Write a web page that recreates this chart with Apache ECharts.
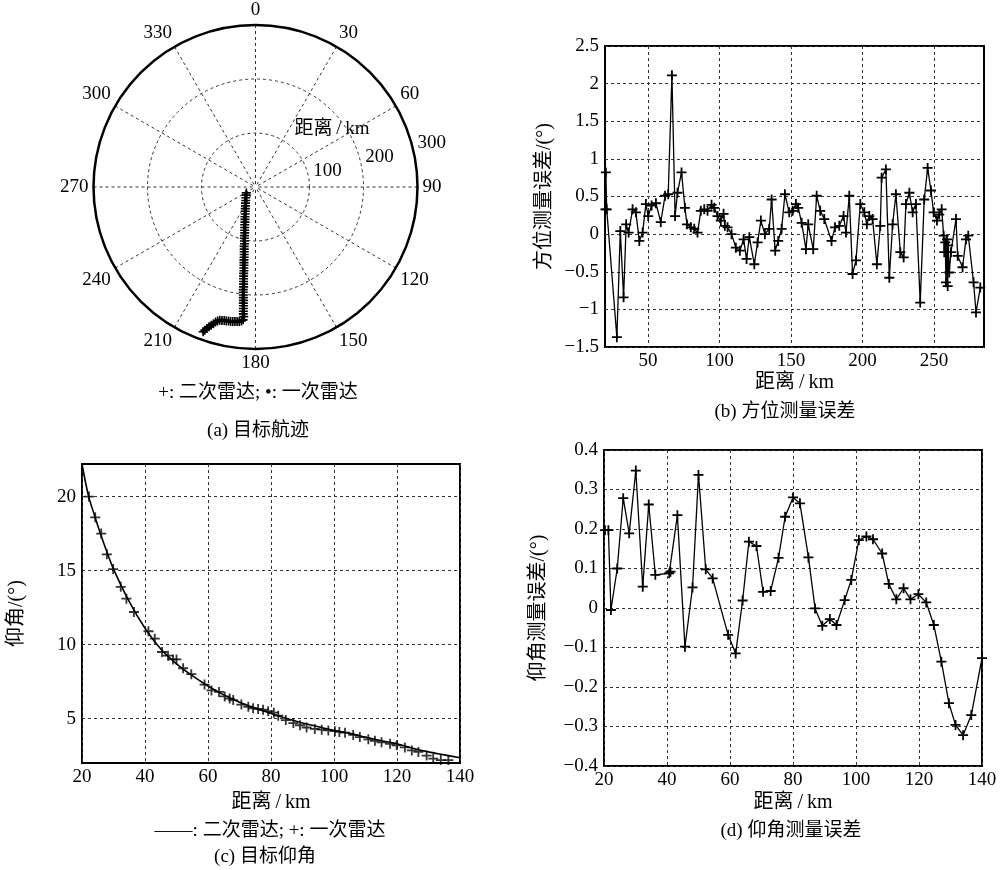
<!DOCTYPE html>
<html>
<head>
<meta charset="utf-8">
<title>目标航迹与测量误差</title>
<script src="https://cdn.jsdelivr.net/npm/echarts@6/dist/echarts.min.js"></script>
<style>
  html, body { margin: 0; padding: 0; background: #fff; }
  #main { width: 1001px; height: 870px; }
</style>
</head>
<body>
<div id="main"></div>
<script>
// (a) 目标航迹: 距离 km / 方位 deg
const trackRange = [20.2, 23.0, 26.9, 30.8, 35.2, 39.6, 44.3, 48.8, 53.5, 58.4,
  63.1, 67.9, 72.8, 77.6, 82.5, 87.3, 92.3, 97.2, 102.1, 107.0,
  112.0, 116.9, 121.8, 126.8, 131.7, 136.7, 141.6, 146.6, 151.5, 156.5,
  161.5, 166.5, 171.4, 176.4, 181.3, 186.3, 191.3, 196.3, 201.3, 206.2,
  211.2, 216.2, 221.1, 226.1, 231.1, 236.1, 241.0, 247.1,
  249.4, 250.8, 251.3, 251.9, 252.5, 253.2, 253.0, 253.8, 253.7, 254.7,
  255.7, 257.7, 260.7, 264.8, 268.8, 272.9, 277.0, 281.2, 285.0]
const trackAzimuth = [237.1, 229.4, 222.0, 215.8, 211.7, 207.9, 205.4, 202.9, 200.8, 199.5,
  198.0, 196.7, 195.9, 194.9, 194.0, 193.2, 192.8, 192.2, 191.6, 191.0,
  190.8, 190.3, 189.9, 189.5, 189.2, 189.0, 188.7, 188.4, 188.2, 187.9,
  187.8, 187.6, 187.4, 187.2, 187.0, 186.8, 186.8, 186.6, 186.4, 186.3,
  186.1, 186.0, 185.8, 185.7, 185.6, 185.5, 185.2, 185.3,
  186.0, 186.9, 187.8, 188.7, 189.6, 190.5, 191.4, 192.3, 193.2, 194.1,
  195.0, 195.8, 196.5, 197.1, 197.8, 198.4, 199.0, 199.5, 199.9]
const radiusTicks = [100, 200, 300]

// (b) 方位测量误差
const azDist = [20.3, 20.6, 21.2, 28.3, 30.7, 33.0, 34.8, 36.5, 39.3, 41.6,
  44.0, 46.3, 48.6, 50.2, 52.6, 55.6, 59.0, 62.0, 64.2, 66.8,
  69.0, 70.7, 73.5, 75.9, 77.3, 80.0, 82.4, 84.7, 87.0, 89.4,
  91.7, 94.5, 96.4, 98.7, 101.0, 102.9, 103.8, 105.7, 108.5, 111.5,
  114.3, 116.9, 119.0, 120.9, 124.4, 126.7, 129.0, 131.8, 134.8, 136.5,
  139.0, 141.1, 143.5, 145.8, 148.8, 151.2, 153.5, 155.1, 157.5, 160.5,
  162.1, 165.6, 168.0, 170.5, 173.3, 178.4, 180.8, 183.8, 186.8, 188.5,
  190.8, 193.1, 195.5, 198.5, 201.3, 203.1, 204.8, 207.1, 210.1, 212.5,
  213.4, 216.4, 218.8, 221.1, 223.4, 226.5, 228.8, 230.4, 232.8, 235.1,
  237.4, 240.4, 243.2, 245.6, 247.9, 249.8, 252.1, 253.7, 255.4, 256.8,
  257.2, 257.9, 258.4, 259.1, 259.6, 260.0, 260.7, 261.9, 265.4, 266.6,
  270.0, 272.4, 274.0, 277.7, 279.4, 282.4, 285.2]
const azError = [0.33, 0.82, 0.33, -1.37, 0.04, -0.84, 0.13, 0.02, 0.33, 0.29,
  -0.09, 0.02, 0.40, 0.24, 0.38, 0.41, 0.16, 0.51, 0.53, 2.11,
  0.24, 0.55, 0.82, 0.35, 0.13, 0.09, 0.07, 0.02, 0.31, 0.33,
  0.31, 0.39, 0.35, 0.24, 0.18, 0.27, 0.11, 0.09, 0.00, -0.18,
  -0.22, -0.07, -0.33, -0.04, -0.40, -0.11, 0.18, 0.00, 0.07, 0.46,
  -0.22, -0.09, 0.07, 0.53, 0.29, 0.31, 0.40, 0.35, 0.15, -0.20,
  0.13, -0.20, 0.51, 0.31, 0.20, -0.09, 0.09, 0.11, 0.24, 0.02,
  0.51, -0.53, -0.35, 0.40, 0.29, 0.13, 0.24, 0.20, -0.40, 0.11,
  0.75, 0.86, -0.58, 0.13, 0.53, -0.24, -0.31, 0.40, 0.55, 0.29,
  0.40, -0.91, 0.46, 0.88, 0.58, 0.29, 0.18, 0.26, 0.33, -0.02,
  -0.24, -0.11, -0.64, -0.07, -0.69, -0.15, -0.51, -0.24, 0.20, -0.29,
  -0.44, -0.07, -0.02, -0.64, -1.04, -0.71, -0.71]
const azDistTicks = [50, 100, 150, 200, 250]

// (c) 目标仰角
const secDist = [20, 22, 24, 26, 28, 30, 35, 40, 45, 50, 55, 60, 65, 70,
  75, 80, 85, 90, 95, 100, 105, 110, 115, 120, 125, 130, 135, 140]
const secElev = [22.2, 20.1, 18.7, 17.4, 16.2, 15.1, 12.9, 11.1, 9.7, 8.7, 7.9, 7.2, 6.6, 6.1,
  5.7, 5.35, 5.0, 4.7, 4.45, 4.2, 4.0, 3.75, 3.5, 3.3, 3.0, 2.75, 2.55, 2.35]
const priDist = [22.2, 24.2, 26.1, 27.9, 29.9, 32.3, 34.1, 36.5, 41.1, 43.1,
  45.4, 47.3, 48.9, 50.0, 52.1, 54.7, 58.9, 61.1, 63.5, 65.3,
  66.9, 68.0, 70.6, 72.8, 74.3, 75.9, 77.5, 79.1, 80.9, 82.3,
  84.7, 87.1, 89.2, 91.3, 93.9, 96.1, 98.2, 100.3, 101.7, 103.5,
  106.1, 108.2, 110.9, 113.0, 115.1, 117.8, 119.9, 122.5, 124.7, 126.8,
  129.4, 131.5, 133.9, 136.3]
const priElev = [20.0, 18.6, 17.5, 16.1, 15.1, 13.9, 13.1, 12.2, 10.9, 10.4,
  9.5, 9.25, 9.0, 9.0, 8.4, 8.0, 7.3, 6.9, 6.8, 6.5,
  6.35, 6.25, 5.95, 5.8, 5.7, 5.65, 5.6, 5.5, 5.4, 5.2,
  4.9, 4.7, 4.55, 4.4, 4.3, 4.25, 4.2, 4.15, 4.1, 4.05,
  3.9, 3.75, 3.6, 3.5, 3.4, 3.3, 3.2, 3.05, 2.85, 2.75,
  2.5, 2.3, 2.2, 2.2]
const elevTicks = [5, 10, 15, 20]

// (d) 仰角测量误差
const elDist = [20.3, 21.4, 22.2, 24.2, 26.1, 28.0, 30.1, 32.3, 34.2, 36.3,
  40.7, 41.1, 43.3, 45.7, 48.1, 50.0, 52.3, 54.5, 59.4, 61.8,
  64.0, 66.0, 68.4, 70.5, 72.9, 75.4, 77.5, 80.0, 82.2, 84.9,
  87.0, 89.3, 91.7, 93.8, 96.4, 98.5, 100.9, 103.3, 105.4, 108.3,
  110.4, 112.8, 115.1, 117.3, 119.8, 122.3, 124.7, 127.1, 129.5, 131.6,
  134.0, 136.6, 140.0]
const elError = [0.197, 0.197, -0.005, 0.10, 0.278, 0.189, 0.348, 0.054, 0.262, 0.084,
  0.088, 0.092, 0.235, -0.098, 0.052, 0.337, 0.098, 0.075, -0.068, -0.115,
  0.019, 0.168, 0.157, 0.041, 0.043, 0.127, 0.231, 0.28, 0.265, 0.128,
  -0.001, -0.045, -0.028, -0.043, 0.02, 0.071, 0.172, 0.181, 0.174, 0.138,
  0.061, 0.022, 0.05, 0.022, 0.035, 0.014, -0.043, -0.136, -0.241, -0.296,
  -0.322, -0.271, -0.127]

const FONT = "'Liberation Serif', 'Noto Sans CJK SC', serif"
const PLUS = 'path://M4.1 0H5.9V4.1H10V5.9H5.9V10H4.1V5.9H0V4.1H4.1Z'
const tickText = { color: '#000', fontFamily: FONT, fontSize: 19 }
const nameText = { color: '#000', fontFamily: FONT, fontSize: 20 }
const dashed = { show: true, lineStyle: { color: '#333', type: [3, 3], width: 1 } }
const minus = v => (v < 0 ? '\u2212' + String(+Math.abs(v).toFixed(2)) : String(+(+v).toFixed(2)))
const pairs = (xs, ys) => xs.map((x, i) => [x, ys[i]])
const KM = '距离\u2009/\u2009km'

const xAxisBase = (gridIndex, min, max, nameGap) => ({
    type: 'value', gridIndex, min, max,
    name: KM, nameLocation: 'middle', nameGap, nameTextStyle: nameText,
    axisLine: { show: false }, axisTick: { show: false },
    axisLabel: { ...tickText, margin: 5 },
    splitLine: dashed
})
const yAxisBase = (gridIndex, min, max, name, nameGap) => ({
    type: 'value', gridIndex, min, max,
    name, nameLocation: 'middle', nameRotate: 90, nameGap, nameTextStyle: nameText,
    axisLine: { show: false }, axisTick: { show: false },
    axisLabel: { ...tickText, margin: 6, formatter: minus },
    splitLine: dashed
})

const chart = echarts.init(document.getElementById('main'))

const xB = xAxisBase(0, 20, 285, 26)
xB.axisLabel.customValues = azDistTicks
xB.axisTick.customValues = azDistTicks
const yB = yAxisBase(0, -1.5, 2.5, '方位测量误差/(°)', 50)
yB.interval = 0.5

const xC = xAxisBase(1, 20, 140, 30)
xC.interval = 20
const yC = yAxisBase(1, 2, 22.2, '仰角/(°)', 55)
yC.axisLabel.customValues = elevTicks
yC.axisTick.customValues = elevTicks

const xD = xAxisBase(2, 20, 140, 27)
xD.interval = 20
const yD = yAxisBase(2, -0.4, 0.4, '仰角测量误差/(°)', 55)
yD.interval = 0.1

const lineStyle = { color: '#000', width: 1.3 }
const caption = (x, y, text) => ({
    type: 'text', x, y,
    style: { text, font: '19px ' + FONT, fill: '#000', align: 'center', verticalAlign: 'middle', textAlign: 'center', textVerticalAlign: 'middle' }
})

chart.setOption({
    animation: false,
    backgroundColor: '#fff',
    textStyle: { fontFamily: FONT },
    polar: [
        { center: [255.5, 187], radius: 162 },
        { center: [255.5, 187], radius: 162 }
    ],
    angleAxis: [
        {
            polarIndex: 0, type: 'value', min: 0, max: 360, interval: 30,
            startAngle: 90, clockwise: true,
            axisLine: { lineStyle: { color: '#000', width: 2.5 } },
            axisTick: { show: false },
            axisLabel: { ...tickText, margin: 5, formatter: v => (v === 360 ? '' : String(v)) },
            splitLine: { show: true, lineStyle: { color: '#333', type: [3, 3], width: 1 } }
        },
        {
            polarIndex: 1, type: 'value', min: 0, max: 360, startAngle: 15,
            axisLine: { show: false }, axisTick: { show: false },
            axisLabel: { show: false }, splitLine: { show: false }
        }
    ],
    radiusAxis: [
        {
            polarIndex: 0, type: 'value', min: 0, max: 300, interval: 100,
            axisLine: { show: false }, axisTick: { show: false },
            axisLabel: { show: false },
            splitLine: { show: true, lineStyle: { color: '#333', type: [3, 3], width: 1 } }
        },
        {
            polarIndex: 1, type: 'value', min: 0, max: 300, interval: 100,
            axisLine: { show: false }, axisTick: { show: false },
            axisLabel: { ...tickText, margin: 2, customValues: radiusTicks, align: 'left', padding: [0, 0, 0, 6] },
            splitLine: { show: false }
        }
    ],
    grid: [
        { left: 605, top: 46, width: 379, height: 301, show: true, borderColor: '#000', borderWidth: 2, backgroundColor: 'transparent' },
        { left: 82, top: 464, width: 378, height: 299, show: true, borderColor: '#000', borderWidth: 2, backgroundColor: 'transparent' },
        { left: 604, top: 450, width: 378, height: 316, show: true, borderColor: '#000', borderWidth: 2, backgroundColor: 'transparent' }
    ],
    xAxis: [xB, xC, xD],
    yAxis: [yB, yC, yD],
    series: [
        {
            name: '二次雷达', type: 'line', coordinateSystem: 'polar', polarIndex: 0,
            data: pairs(trackRange, trackAzimuth),
            symbol: PLUS, symbolSize: 9, showSymbol: true,
            itemStyle: { color: '#000' }, lineStyle: { color: '#000', width: 3 }
        },
        {
            name: '一次雷达', type: 'scatter', coordinateSystem: 'polar', polarIndex: 0,
            data: pairs(trackRange, trackAzimuth),
            symbol: 'circle', symbolSize: 4, itemStyle: { color: '#000' }
        },
        {
            type: 'line', xAxisIndex: 0, yAxisIndex: 0,
            data: pairs(azDist, azError),
            symbol: PLUS, symbolSize: 10, showSymbol: true,
            itemStyle: { color: '#000' }, lineStyle
        },
        {
            name: '二次雷达', type: 'line', xAxisIndex: 1, yAxisIndex: 1,
            data: pairs(secDist, secElev), smooth: 0.3,
            showSymbol: false, lineStyle: { color: '#000', width: 1.6 }
        },
        {
            name: '一次雷达', type: 'scatter', xAxisIndex: 1, yAxisIndex: 1,
            data: pairs(priDist, priElev),
            symbol: PLUS, symbolSize: 10, itemStyle: { color: '#000' }
        },
        {
            type: 'line', xAxisIndex: 2, yAxisIndex: 2,
            data: pairs(elDist, elError),
            symbol: PLUS, symbolSize: 10, showSymbol: true,
            itemStyle: { color: '#000' }, lineStyle
        }
    ],
    graphic: [
        caption(332, 129, KM),
        caption(258, 393, '+: 二次雷达; •: 一次雷达'),
        caption(258, 431, '(a) 目标航迹'),
        caption(785, 412, '(b) 方位测量误差'),
        caption(270, 831, '——: 二次雷达; +: 一次雷达'),
        caption(265, 857, '(c) 目标仰角'),
        caption(791, 831, '(d) 仰角测量误差')
    ]
})
</script>
</body>
</html>
